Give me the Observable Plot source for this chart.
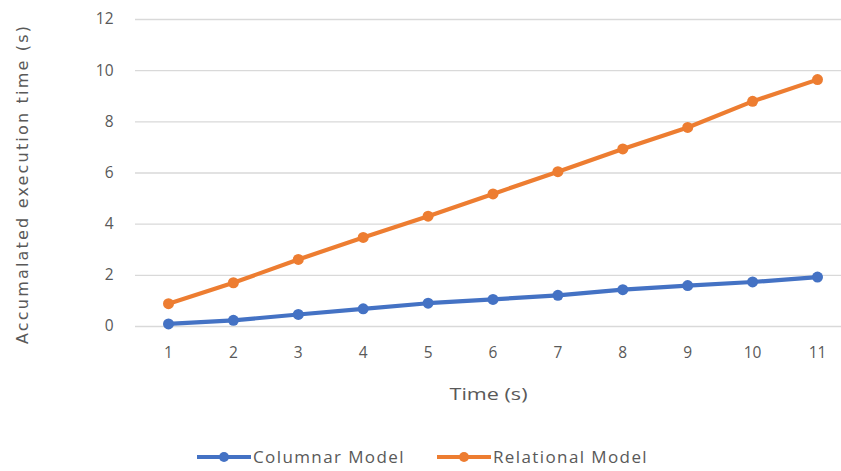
<!DOCTYPE html>
<html>
<head>
<meta charset="utf-8">
<script src="https://cdn.jsdelivr.net/npm/d3@7"></script>
<script src="https://cdn.jsdelivr.net/npm/@observablehq/plot@0.6"></script>
<style>
  html, body { margin: 0; padding: 0; background: #fff; }
  #chart { width: 841px; position: relative; font-family: "Open Sans", sans-serif; }
  #legend { height: 28px; margin-top: 3px; display: flex; justify-content: center; align-items: center; gap: 32px;
            font-size: 17px; letter-spacing: 1.4px; color: #595959; padding-left: 4px; line-height: 20px; }
  .item { display: flex; align-items: center; }
  .item svg { margin-right: 2px; }
</style>
</head>
<body>
<div id="chart"></div>
<script>
// Elapsed time (s)
const times = [1, 2, 3, 4, 5, 6, 7, 8, 9, 10, 11];
// Accumulated execution time (s) per model
const columnar = [0.10, 0.24, 0.47, 0.69, 0.91, 1.06, 1.22, 1.44, 1.60, 1.74, 1.93];
const relational = [0.89, 1.71, 2.62, 3.48, 4.31, 5.18, 6.05, 6.94, 7.78, 8.80, 9.65];
const seriesNames = ["Columnar Model", "Relational Model"];
const seriesColors = ["#4472C4", "#ED7D31"];
const yTicks = [0, 2, 4, 6, 8, 10, 12];

const rows = [
  ...times.map((t, i) => ({time: t, value: columnar[i], series: seriesNames[0]})),
  ...times.map((t, i) => ({time: t, value: relational[i], series: seriesNames[1]}))
];

const plot = Plot.plot({
  width: 841,
  height: 440,
  marginLeft: 135,
  marginRight: 0,
  marginTop: 19,
  marginBottom: 114,
  style: {fontFamily: "Open Sans, sans-serif", fontSize: "15px", color: "#595959", background: "#fff"},
  x: {type: "point", domain: times, range: [168, 817], padding: 0, round: false},
  y: {domain: [0, 12]},
  color: {domain: seriesNames, range: seriesColors},
  marks: [
    Plot.gridY(yTicks, {stroke: "#d9d9d9", strokeOpacity: 1, strokeWidth: 1.4}),
    Plot.axisY(yTicks, {tickSize: 0, tickPadding: 22, label: null, fill: "#595959", fontSize: 15.5}),
    Plot.axisX(times, {tickSize: 0, tickPadding: 20, label: null, fill: "#595959", fontSize: 15.5}),
    Plot.line(rows, {x: "time", y: "value", z: "series", stroke: "series", strokeWidth: 4.2}),
    Plot.dot(rows, {x: "time", y: "value", fill: "series", r: 5.5}),
    Plot.text(["Accumalated execution time (s)"], {
      frameAnchor: "left", textAnchor: "middle", rotate: -90, dx: -113, dy: 12,
      fill: "#595959", fontSize: 16, fontFamily: "DejaVu Sans, sans-serif", className: "ylabel"
    }),
    Plot.text(["Time (s)"], {
      frameAnchor: "bottom", dy: 73, fill: "#595959", fontSize: 16, className: "xlabel"
    })
  ]
});

// Spread the axis titles to the widths they occupy
d3.select(plot).select(".ylabel text").attr("textLength", 318).attr("lengthAdjust", "spacing");
d3.select(plot).select(".xlabel text").attr("textLength", 78).attr("lengthAdjust", "spacingAndGlyphs");

document.getElementById("chart").appendChild(plot);

// Legend below the plot
const legend = d3.select("#chart").append("div").attr("id", "legend");
seriesNames.forEach((name, i) => {
  const item = legend.append("div").attr("class", "item");
  const sw = item.append("svg").attr("width", 54).attr("height", 14);
  sw.append("line").attr("x1", 0).attr("x2", 54).attr("y1", 7).attr("y2", 7)
    .attr("stroke", seriesColors[i]).attr("stroke-width", 4.2);
  sw.append("circle").attr("cx", 27).attr("cy", 7).attr("r", 5).attr("fill", seriesColors[i]);
  item.append("span").text(name);
});
</script>
</body>
</html>
